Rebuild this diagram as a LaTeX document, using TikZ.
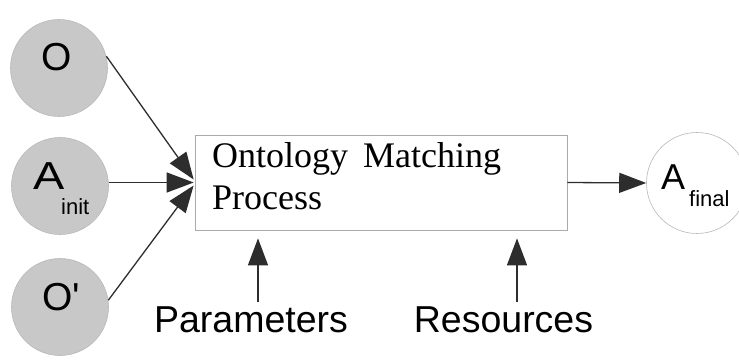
\documentclass[tikz,border=0pt]{standalone}
\usepackage{fontspec}
\setmainfont{Liberation Serif}
\setsansfont{Liberation Sans}
\usetikzlibrary{arrows.meta}
\definecolor{circgray}{RGB}{200,200,200}
\definecolor{circedge}{RGB}{185,185,185}
\definecolor{boxedge}{RGB}{170,170,170}
\definecolor{lineclr}{RGB}{45,45,45}
\begin{document}
\begin{tikzpicture}[x=1pt,y=-1pt,
  inp/.style={circle,fill=circgray,draw=circedge,line width=0.6pt,minimum size=97pt,inner sep=0pt},
  lab/.style={font=\fontsize{39}{39}\sffamily,inner sep=0pt,anchor=base},
  sub/.style={font=\fontsize{22}{22}\sffamily,inner sep=0pt,anchor=base west},
  bigtxt/.style={font=\fontsize{37.5}{37.5}\sffamily,inner sep=0pt,anchor=base},
  serif/.style={font=\fontsize{36}{36}\rmfamily,inner sep=0pt,anchor=base west},
  arr/.style={draw=lineclr,line width=1.3pt,-{Triangle[length=27pt,width=20pt]}}]
\useasboundingbox (0,0) rectangle (739,363);
% input circles
\node[inp] (O) at (59,68) {};
\node[inp] (Ai) at (60,186) {};
\node[inp] (Op) at (60,307) {};
\node[lab] (Ot) at (57,71) {O};
\node[lab] (Opt) at (61,311) {O\textquotesingle};
\node[lab,anchor=base west] (Aia) at (33,190) {\scalebox{1.2}[1]{A}};
\node[sub] (Ais) at (61,215) {init};
% process box
\node[draw=boxedge,line width=0.7pt,minimum width=372pt,minimum height=95pt,inner sep=0pt] (box) at (381,182.5) {};
\node[serif] (t1) at (212,168) {Ontology\hspace{6pt} Matching};
\node[serif] (t2) at (212,210) {Process};
% output circle
\node[circle,draw=circedge,fill=white,line width=0.6pt,minimum size=101pt,inner sep=0pt] (Af) at (697,183) {};
\node[lab,anchor=base west,font=\fontsize{36}{36}\sffamily] (Afa) at (661,190) {A};
\node[sub] (Afs) at (689,207) {final};
% bottom labels
\node[bigtxt] (par) at (251,333) {Parameters};
\node[bigtxt] (res) at (503.5,333) {Resources};
\coordinate (pa) at (258,302);
\coordinate (ra) at (517,302);
% connectors
\draw[arr] (O.14) -- ([yshift=3pt,xshift=-1pt]box.west);
\draw[arr] (Ai.east |- box.west) -- ([xshift=-1pt]box.west);
\draw[arr] (Op.8) -- ([yshift=-3pt,xshift=-1pt]box.west);
\draw[arr] (box.east) -- (Af.west);
\draw[arr,shorten >=8pt] (pa) -- (pa |- box.south);
\draw[arr,shorten >=8pt] (ra) -- (ra |- box.south);
\end{tikzpicture}
\end{document}
